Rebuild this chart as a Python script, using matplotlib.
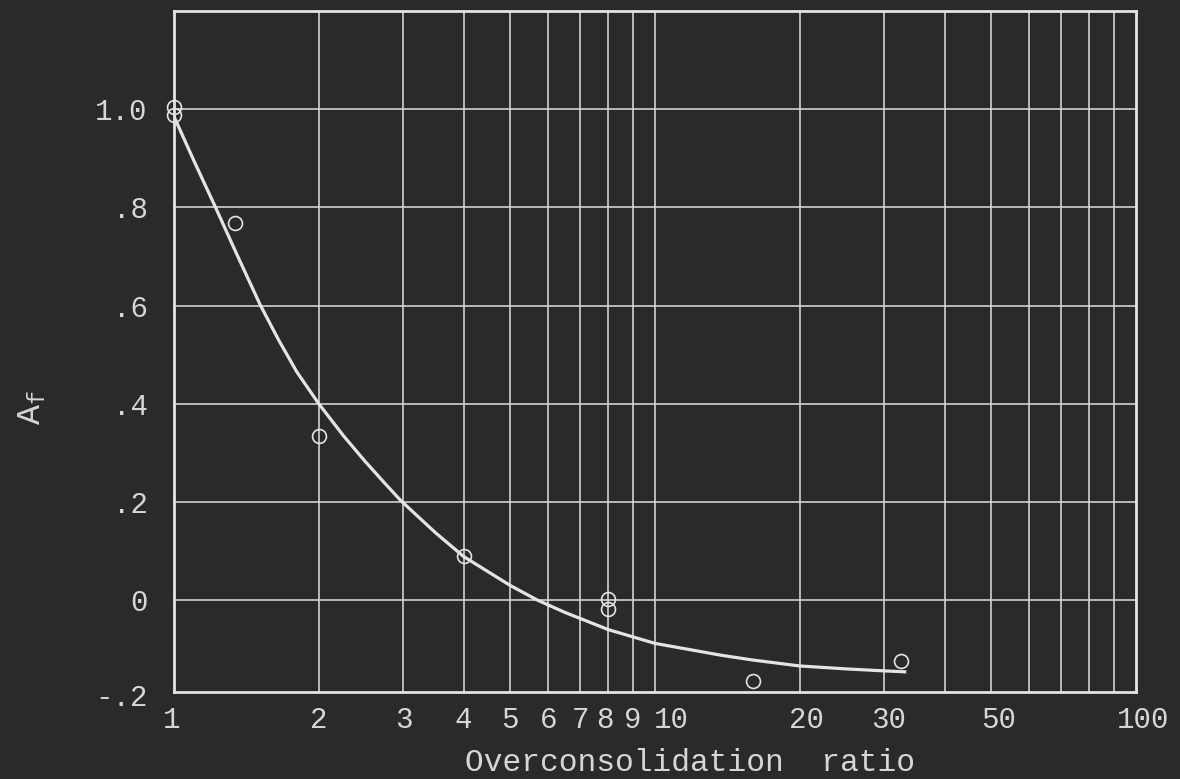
import matplotlib
matplotlib.use("Agg")
import matplotlib.pyplot as plt
from matplotlib.transforms import blended_transform_factory, ScaledTranslation

# Measured pore-pressure coefficient at failure vs overconsolidation ratio
ocr_points = [1.0, 1.0, 1.34, 2.0, 4.0, 8.0, 8.0, 16.0, 32.4]
af_points = [1.005, 0.988, 0.768, 0.334, 0.091, 0.003, -0.017, -0.164, -0.123]

# Hand-drawn trend curve through the data
curve_ocr = [1.0, 1.1, 1.22, 1.35, 1.51, 1.65, 1.8, 2.0, 2.25, 2.5, 2.75,
             2.96, 3.5, 4.0, 5.0, 5.7, 6.5, 8.0, 10.0, 13.7, 16.0, 20.0,
             25.0, 30.0, 33.3]
curve_af = [0.985, 0.895, 0.80, 0.705, 0.602, 0.53, 0.465, 0.40, 0.335,
            0.282, 0.237, 0.203, 0.137, 0.089, 0.030, 0.0, -0.025, -0.060,
            -0.088, -0.112, -0.122, -0.134, -0.140, -0.144, -0.146]

x_major = [1, 2, 3, 4, 5, 6, 7, 8, 9, 10, 20, 30, 50, 100]
x_labels = ["1", "2", "3", "4", "5", "6", "7", "8", "9", "10", "20", "30", "50", "100"]
x_grid = [2, 3, 4, 5, 6, 7, 8, 9, 10, 20, 30, 40, 50, 60, 70, 80, 90]
y_ticks = [0.0, 0.2, 0.4, 0.6, 0.8, 1.0]
y_labels = ["0", ".2", ".4", ".6", ".8", "1.0"]

# typed labels sit a little off their grid lines (pixels)
x_label_shift = [-2, 0, 0, 0, 0, 0, 0, -4, 0, 16, 7, 4, 7, 7]

BG = "#2a2a2a"
INK = "#e4e4e4"
GRID = "#d2d2d2"
TEXT = "#d6d6d6"
FONT = "Liberation Mono"

plt.rcParams["mathtext.fontset"] = "custom"
plt.rcParams["mathtext.rm"] = FONT
plt.rcParams["mathtext.it"] = FONT

fig = plt.figure(figsize=(11.8, 7.79), dpi=100, facecolor=BG)
ax = fig.add_axes([174 / 1180, 1 - 692 / 779, (1136 - 174) / 1180, (692 - 11) / 779])
ax.set_facecolor(BG)
ax.set_xscale("log")
ax.set_xlim(1, 100)
ax.set_ylim(-0.187, 1.2)

for gx in x_grid:
    ax.axvline(gx, color=GRID, lw=1.2, zorder=1)
for gy in y_ticks:
    ax.axhline(gy, color=GRID, lw=1.2, zorder=1)

ax.plot(curve_ocr, curve_af, color=INK, lw=2.3, solid_capstyle="butt",
        solid_joinstyle="round", zorder=3)
ax.plot(ocr_points, af_points, linestyle="none", marker="o", ms=10,
        mfc="none", mec=INK, mew=1.2, zorder=4, clip_on=False)

for s in ax.spines.values():
    s.set_color(INK)
    s.set_linewidth(2.0)

ax.xaxis.set_minor_locator(matplotlib.ticker.NullLocator())
ax.set_xticks(x_major)
ax.set_xticklabels(x_labels)
ax.set_yticks(y_ticks)
ax.set_yticklabels(y_labels)
ax.tick_params(axis="both", length=0, colors=TEXT, labelsize=21)
ax.tick_params(axis="x", pad=10)
ax.tick_params(axis="y", pad=19)
for lab in ax.get_xticklabels() + ax.get_yticklabels():
    lab.set_fontfamily(FONT)
for lab, dx in zip(ax.get_xticklabels(), x_label_shift):
    lab.set_transform(lab.get_transform() + ScaledTranslation(dx / 100, 0, fig.dpi_scale_trans))

# bottom value label sits just below the lower frame edge
trans = blended_transform_factory(ax.transAxes, ax.transData)
ax.text(-26 / 962, -0.2, "-.2", transform=trans, ha="right", va="center",
        fontsize=21, family=FONT, color=TEXT, clip_on=False)

fig.text(690 / 1180, 1 - 763 / 779, "Overconsolidation  ratio", ha="center",
         va="center", fontsize=22.5, family=FONT, color=TEXT)
fig.text(32 / 1180, 1 - 408 / 779, r"$\mathrm{A}_\mathrm{f}$", rotation=90,
         ha="center", va="center", fontsize=24, color=TEXT)

fig.savefig("out.png", dpi=100, facecolor=BG)
